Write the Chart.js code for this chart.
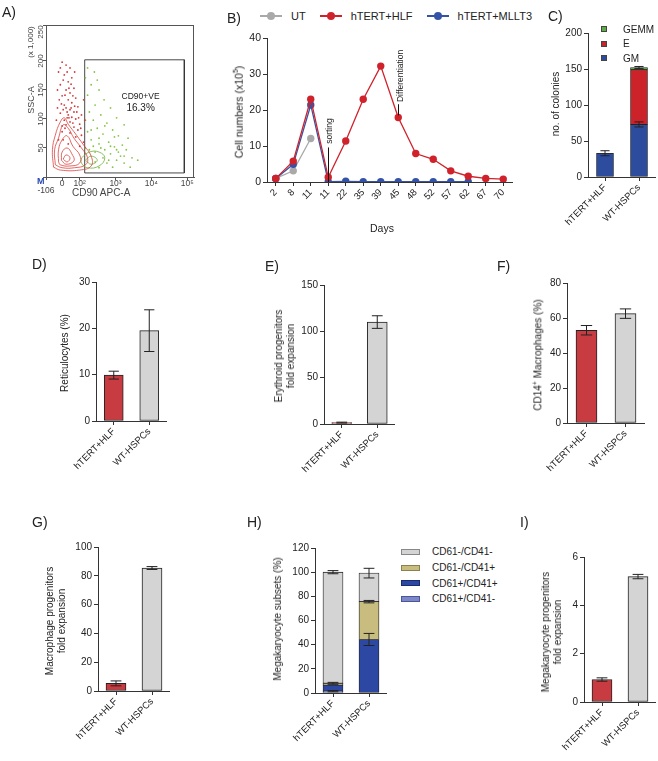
<!DOCTYPE html>
<html>
<head>
<meta charset="utf-8">
<title>hTERT+HLF panels</title>
<script src="https://cdn.jsdelivr.net/npm/chart.js@4.4.1/dist/chart.umd.min.js"></script>
<style>
body{margin:0;width:658px;height:761px;position:relative;background:#fff;font-family:"Liberation Sans",Arial,sans-serif;color:#222;overflow:hidden}
.pl{position:absolute;font-size:14px;line-height:14px}
.yt{position:absolute;transform:translate(-50%,-50%) rotate(-90deg);white-space:nowrap;text-align:center;font-size:10px;line-height:12px}
.tx{position:absolute;white-space:nowrap;font-size:10px;line-height:10px}
.lgB{position:absolute;left:260px;top:10px;font-size:11px;white-space:nowrap;display:flex;align-items:center}
.lgB .it{display:flex;align-items:center;margin-right:14px}
.mk{position:relative;display:inline-block;width:22px;height:8px;margin-right:9px}
.mk i{position:absolute;left:0;right:0;top:3px;height:1.5px}
.mk b{position:absolute;left:7px;top:0;width:8px;height:8px;border-radius:50%}
.lgC,.lgH{position:absolute;font-size:10px;white-space:nowrap}
.lgC div{height:14.5px;display:flex;align-items:center}
.lgC span{display:inline-block;width:4px;height:4px;border:1px solid #444;margin-right:16px}
.lgH div{height:15.7px;display:flex;align-items:center}
.lgH span{display:inline-block;width:17px;height:4px;border:1px solid #555;margin-right:12px}
</style>
</head>
<body>
<script>
// ---- data ----
// A) CD90 gate, x in display decades, y in SSC-A (x1000)
const aTickVals = [1.06, 1.51, 2, 3, 4, 5];
const aTickLabels = ['-106', '0', '10²', '10³', '10⁴', '10⁵'];
const aRedContours = [
  [[1.27,17],[1.24,47],[1.32,72],[1.46,95],[1.57,102],[1.68,91],[1.84,78],[2.11,55],[2.32,36],[2.32,19],[2.0,12],[1.46,12],[1.27,17]],
  [[1.32,21],[1.30,47],[1.41,67],[1.54,90],[1.68,84],[1.84,67],[2.05,50],[2.22,33],[2.16,21],[1.86,16],[1.51,16],[1.32,21]],
  [[1.41,26],[1.41,47],[1.51,64],[1.65,71],[1.81,53],[2.0,38],[2.0,24],[1.73,19],[1.46,21],[1.41,26]],
  [[1.49,29],[1.51,43],[1.65,50],[1.78,40],[1.84,28],[1.62,22],[1.49,29]],
  [[1.54,31],[1.62,38],[1.73,33],[1.65,26],[1.54,31]]
];
const aGreenContours = [
  [[2.05,33],[2.27,43],[2.54,43],[2.70,33],[2.54,19],[2.22,16],[2.05,24],[2.05,33]],
  [[2.16,29],[2.32,36],[2.49,29],[2.32,22],[2.16,29]]
];
const aRedDots = [[1.51,198],[1.62,193],[1.73,188],[1.41,181],[1.57,176],[1.78,171],[1.68,164],[1.46,159],[1.84,153],[1.62,150],
  [1.73,145],[1.51,140],[1.89,136],[1.68,133],[1.78,128],[1.57,124],[1.95,121],[1.62,119],[1.73,116],[1.84,112],[1.46,110],
  [1.68,107],[1.78,103],[1.89,100],[1.57,98],[1.73,95],[2.0,91],[1.62,90],[1.84,86],[1.95,81],[1.51,78],[1.73,76],[2.05,72],
  [1.89,69],[1.41,64],[2.11,60],[1.68,57],[2.0,53],[1.35,98],[1.43,133],[2.05,107],[2.11,133],[1.86,181],[1.38,150],
  [1.65,112],[1.70,102],[1.59,84],[1.76,119],[1.54,116],[1.81,93],[1.46,188],[1.65,181],[1.54,167],[1.76,160],[1.59,141],
  [1.49,126],[1.86,122],[1.65,102],[1.51,88],[1.97,102],[1.81,140],[1.70,153],[1.92,112],[1.38,119],[2.03,84],[1.54,64],[2.14,98]];
const aGreenDots = [[2.22,188],[2.41,181],[2.32,159],[2.54,150],[2.22,141],[2.68,133],[2.43,124],[2.86,119],[2.27,112],[2.59,107],
  [3.03,102],[2.38,98],[2.76,93],[3.24,90],[2.49,84],[2.92,81],[2.22,78],[2.65,74],[3.08,71],[3.35,67],[2.32,64],[2.81,60],
  [2.54,57],[3.19,55],[2.97,52],[2.16,50],[2.70,47],[3.30,47],[2.43,43],[2.86,40],[3.14,36],[3.46,33],[3.03,29],[2.76,24],
  [3.24,24],[2.92,17],[2.54,16],[3.41,17],[3.62,29],[2.49,167],[2.16,171],[2.65,33],[2.81,29],[2.43,26],[3.08,43],
  [2.27,47],[2.38,53],[2.59,50],[2.86,53],[3.03,47],[3.24,36],[2.54,67],[2.32,81],[2.16,98],[2.70,88],[2.97,69]];
const aGate = [[2.14,7],[2.14,202],[4.92,202],[4.92,7],[2.14,7]];
const aGateText = [{text: 'CD90+VE', x: 3.70, y: 138, size: 8.5}, {text: '16.3%', x: 3.70, y: 119, size: 10}];

// B) cell numbers (x10^5)
const bDays = ['2','8','11','11','22','35','39','45','48','52','57','62','67','70'];
const bNames = ['UT', 'hTERT+HLF', 'hTERT+MLLT3'];
const bColors = ['#a9a9a9', '#d0222b', '#3553a6'];
const bUT = [1, 3.1, 12.1, null, null, null, null, null, null, null, null, null, null, null];
const bHLF = [1, 5.8, 23, 1.3, 11.4, 23, 32.2, 17.9, 7.9, 6.3, 3.1, 1.6, 1.0, 0.8];
const bMLLT3 = [1, 4.9, 21.4, 0.1, 0.2, 0.1, 0.1, 0.1, 0.1, 0.1, 0.1, 0.1, null, null];
const bMarks = [
  {text: 'sorting', at: 3, from: 0, to: 9.6, textAt: 10.6, dx: 1},
  {text: 'Differentiation', at: 7, from: 18.5, to: 21.6, textAt: 22.2, dx: 2}
];

// shared groups
const groups = ['hTERT+HLF', 'WT-HSPCs'];

// C) colonies
const cNames = ['GM', 'E', 'GEMM'];
const cColors = ['#2d4c9e', '#cc2229', '#5dae41'];
const cGM = [33, 73], cGMErr = [3.5, 3.5];
const cE = [null, 76], cEErr = [0, 0];
const cGEMM = [null, 3], cGEMMErr = [0, 1.5];

// D-G, I) simple bars
const dVals = [9.9, 19.5], dErr = [0.85, 4.5];
const eVals = [1.5, 110], eErr = [0.5, 6.8];
const fVals = [53, 62.5], fErr = [2.7, 2.7];
const gVals = [5.3, 85.4], gErr = [1.7, 1];
const iVals = [0.93, 5.19], iErr = [0.07, 0.09];

// H) megakaryocyte subsets, bottom to top
const hNames = ['CD61+/CD41-', 'CD61+/CD41+', 'CD61-/CD41+', 'CD61-/CD41-'];
const hColors = ['#7d89c7', '#2c48a2', '#c8bd7e', '#d4d4d4'];
const hBorders = ['#4b559e', '#1a2b70', '#8a8050', '#888'];
const hVals = [[1.5, null], [5, 44.3], [1.5, 31.3], [92, 23.6]];
const hErr = [[0.5, 0], [0, 5], [0.8, 1], [1.3, 4]];

const RED = '#c83c41', GRAY = '#d4d4d4', AX = '#333';

// ---- helpers ----
Chart.defaults.font.family = '"Liberation Sans", Arial, sans-serif';
Chart.defaults.color = '#222';
Chart.defaults.animation = false;
Chart.defaults.plugins.legend.display = false;
Chart.defaults.plugins.tooltip.enabled = false;

function place(left, top, w, h) {
  const d = document.createElement('div');
  d.style.cssText = `position:absolute;left:${left}px;top:${top}px;width:${w}px;height:${h}px`;
  const c = document.createElement('canvas');
  d.appendChild(c);
  document.body.appendChild(d);
  return c;
}
function html(s) { document.body.insertAdjacentHTML('beforeend', s); }
function fixY(w) { return s => { s.width = w; s.paddingTop = 0; s.paddingBottom = 0; }; }
function fixX(h) { return s => { s.height = h; s.paddingLeft = 0; s.paddingRight = 0; }; }

const errorBars = {
  id: 'errorBars',
  afterDatasetsDraw(chart) {
    const ctx = chart.ctx, ys = chart.scales.y;
    chart.data.datasets.forEach((ds, i) => {
      if (!ds.errors) return;
      chart.getDatasetMeta(i).data.forEach((bar, j) => {
        const e = ds.errors[j];
        if (!e || ds.data[j] == null) return;
        const d = ys.getPixelForValue(0) - ys.getPixelForValue(e);
        const c = bar.width * 0.27;
        ctx.save();
        ctx.strokeStyle = '#222'; ctx.lineWidth = 1;
        ctx.beginPath();
        ctx.moveTo(bar.x, bar.y - d); ctx.lineTo(bar.x, bar.y + d);
        ctx.moveTo(bar.x - c, bar.y - d); ctx.lineTo(bar.x + c, bar.y - d);
        ctx.moveTo(bar.x - c, bar.y + d); ctx.lineTo(bar.x + c, bar.y + d);
        ctx.stroke();
        ctx.restore();
      });
    });
  }
};

function barPanel(p) {
  const yW = 40, xH = 70, pad = 8;
  const left = p.axisX - yW, top = p.top - pad;
  const cv = place(left, top, p.right - left, p.zero - top + xH);
  new Chart(cv, {
    type: 'bar',
    data: { labels: groups, datasets: p.datasets },
    options: {
      responsive: true, maintainAspectRatio: false,
      layout: { padding: { top: pad, left: 0, right: 0, bottom: 0 } },
      scales: {
        x: {
          stacked: !!p.stacked, offset: true,
          grid: { offset: false, drawOnChartArea: false, color: AX, tickLength: 4 },
          border: { color: AX },
          ticks: { minRotation: 45, maxRotation: 45, font: { size: 9.5 }, padding: 1 },
          afterFit: fixX(xH)
        },
        y: {
          stacked: !!p.stacked, min: 0, max: p.max,
          ticks: { stepSize: p.step, font: { size: 10 }, padding: 2 },
          grid: { drawOnChartArea: false, color: AX, tickLength: 4 },
          border: { color: AX },
          afterFit: fixY(yW)
        }
      }
    },
    plugins: [errorBars]
  });
}
function simpleSet(vals, errs, bw) {
  return [{ data: vals, errors: errs, backgroundColor: [RED, GRAY], borderColor: '#222',
    borderWidth: 1, borderSkipped: false, barThickness: bw }];
}

// ---- A) flow plot ----
const aFrame = {
  id: 'aFrame',
  afterDraw(chart) {
    const { ctx, chartArea: a, scales: { x, y } } = chart;
    ctx.save();
    ctx.strokeStyle = '#555'; ctx.lineWidth = 1;
    ctx.strokeRect(a.left + 0.5, a.top + 0.5, a.right - a.left - 1, a.bottom - a.top);
    ctx.fillStyle = '#444';
    ctx.font = '8px "Liberation Sans", Arial';
    ctx.textAlign = 'center'; ctx.textBaseline = 'middle';
    [50, 100, 150, 200, 250].forEach(v => {
      ctx.save();
      ctx.translate(a.left - 5, y.getPixelForValue(v));
      ctx.rotate(-Math.PI / 2);
      ctx.fillText(String(v), 0, 0);
      ctx.restore();
    });
    ctx.font = '8.5px "Liberation Sans", Arial';
    aTickVals.forEach((v, i) => {
      ctx.fillText(aTickLabels[i], x.getPixelForValue(v), a.bottom + (i === 0 ? 14 : 7));
    });
    aGateText.forEach(t => {
      ctx.font = t.size + 'px "Liberation Sans", Arial';
      ctx.fillStyle = '#222';
      ctx.fillText(t.text, x.getPixelForValue(t.x), y.getPixelForValue(t.y));
    });
    ctx.restore();
  }
};
const pts = arr => arr.map(p => ({ x: p[0], y: p[1] }));
const aSets = [];
aRedContours.forEach(c => aSets.push({ data: pts(c), showLine: true, tension: 0.45, pointRadius: 0, borderColor: '#d9423f', borderWidth: 0.8 }));
aGreenContours.forEach(c => aSets.push({ data: pts(c), showLine: true, tension: 0.45, pointRadius: 0, borderColor: '#6fb33a', borderWidth: 0.8 }));
aSets.push({ data: pts(aRedDots), pointRadius: 0.9, pointBorderWidth: 0, backgroundColor: '#d8363a' });
aSets.push({ data: pts(aGreenDots), pointRadius: 0.9, pointBorderWidth: 0, backgroundColor: '#84c446' });
aSets.push({ data: pts(aGate), showLine: true, tension: 0, pointRadius: 0, borderColor: '#333', borderWidth: 0.9 });
new Chart(place(0, 17, 198, 182), {
  type: 'scatter',
  data: { datasets: aSets },
  options: {
    responsive: true, maintainAspectRatio: false,
    layout: { padding: { top: 8, left: 0, right: 0, bottom: 0 } },
    scales: {
      x: {
        type: 'linear', min: 1.06, max: 5.19,
        afterBuildTicks: s => { s.ticks = aTickVals.map(v => ({ value: v })); },
        ticks: { display: false },
        grid: { drawOnChartArea: false, tickLength: 3, color: '#555' },
        border: { color: '#555' },
        afterFit: fixX(22)
      },
      y: {
        min: 0, max: 262,
        ticks: { display: false, stepSize: 50 },
        grid: { drawOnChartArea: false, tickLength: 3, color: '#555' },
        border: { color: '#555' },
        afterFit: fixY(46)
      }
    }
  },
  plugins: [aFrame]
});
html('<div class="yt" style="left:31px;top:100px;font-size:9px;color:#444">SSC-A</div>');
html('<div class="yt" style="left:31px;top:42px;font-size:8px;color:#444">(x 1,000)</div>');
html('<div class="tx" style="left:72px;top:188px;font-size:10px;color:#444">CD90 APC-A</div>');
html('<div class="tx" style="left:37px;top:176px;font-size:9px;font-weight:bold;color:#2a49b0">M</div>');

// ---- B) growth curve ----
const bNotes = {
  id: 'bNotes',
  afterDatasetsDraw(chart) {
    const { ctx, scales: { x, y } } = chart;
    ctx.save();
    ctx.strokeStyle = '#111'; ctx.fillStyle = '#222'; ctx.lineWidth = 1;
    ctx.font = '8.5px "Liberation Sans", Arial';
    bMarks.forEach(m => {
      const px = Math.round(x.getPixelForValue(m.at)) + 0.5;
      ctx.beginPath();
      ctx.moveTo(px, y.getPixelForValue(m.from));
      ctx.lineTo(px, y.getPixelForValue(m.to));
      ctx.stroke();
      ctx.save();
      ctx.translate(px + m.dx, y.getPixelForValue(m.textAt));
      ctx.rotate(-Math.PI / 2);
      ctx.textAlign = 'left'; ctx.textBaseline = 'middle';
      ctx.fillText(m.text, 0, 0);
      ctx.restore();
    });
    ctx.restore();
  }
};
const bSeries = [bUT, bHLF, bMLLT3];
const bOrder = [2, 0, 1];
new Chart(place(227, 30, 289, 202), {
  type: 'line',
  data: {
    labels: bDays,
    datasets: bSeries.map((d, i) => ({
      label: bNames[i], data: d, order: bOrder[i],
      borderColor: bColors[i], backgroundColor: bColors[i], pointBackgroundColor: bColors[i],
      borderWidth: 1.3, pointRadius: 3.7, pointBorderWidth: 0, tension: 0, spanGaps: false
    }))
  },
  options: {
    responsive: true, maintainAspectRatio: false,
    layout: { padding: { top: 8, left: 0, right: 0, bottom: 0 } },
    scales: {
      x: {
        offset: true,
        grid: { offset: false, drawOnChartArea: false, color: AX, tickLength: 4 },
        border: { color: AX },
        ticks: { autoSkip: false, minRotation: 45, maxRotation: 45, font: { size: 9.5 }, padding: 1 },
        afterFit: fixX(50)
      },
      y: {
        min: 0, max: 40,
        ticks: { stepSize: 10, font: { size: 10.5 }, padding: 2 },
        grid: { drawOnChartArea: false, color: AX, tickLength: 4 },
        border: { color: AX },
        afterFit: fixY(40)
      }
    }
  },
  plugins: [bNotes]
});
html('<div class="lgB">' + bNames.map((n, i) =>
  `<div class="it"><span class="mk"><i style="background:${bColors[i]}"></i><b style="background:${bColors[i]}"></b></span>${n}</div>`).join('') + '</div>');
html('<div class="yt" style="left:237px;top:112px;font-size:10.5px">Cell numbers (x10<sup style="font-size:7px">5</sup>)</div>');
html('<div class="tx" style="left:370px;top:223px;font-size:10.5px">Days</div>');

// ---- C) colonies ----
barPanel({
  axisX: 588, top: 33, zero: 177, right: 656, max: 200, step: 50, stacked: true,
  datasets: [[cGM, cGMErr], [cE, cEErr], [cGEMM, cGEMMErr]].map((d, i) => ({
    label: cNames[i], data: d[0], errors: d[1], backgroundColor: cColors[i],
    borderColor: '#222', borderWidth: 0.8, borderSkipped: false, barThickness: 17
  }))
});
html('<div class="lgC" style="left:601px;top:22px">' + cNames.slice().reverse().map((n, k) =>
  `<div><span style="background:${cColors[cNames.length - 1 - k]}"></span>${n}</div>`).join('') + '</div>');
html('<div class="yt" style="left:556px;top:104px">no. of colonies</div>');

// ---- D, E, F ----
barPanel({ axisX: 96, top: 282, zero: 421, right: 167, max: 30, step: 10, datasets: simpleSet(dVals, dErr, 19) });
html('<div class="yt" style="left:65px;top:353px">Reticulocytes (%)</div>');
barPanel({ axisX: 324, top: 285, zero: 424, right: 395, max: 150, step: 50, datasets: simpleSet(eVals, eErr, 20) });
html('<div class="yt" style="left:285px;top:356px">Erythroid progenitors<br>fold expansion</div>');
barPanel({ axisX: 567, top: 283, zero: 423, right: 645, max: 80, step: 20, datasets: simpleSet(fVals, fErr, 21) });
html('<div class="yt" style="left:537px;top:355px">CD14<sup style="font-size:7px">+</sup> Macrophages (%)</div>');

// ---- G, H, I ----
barPanel({ axisX: 98, top: 547, zero: 691, right: 170, max: 100, step: 20, datasets: simpleSet(gVals, gErr, 20) });
html('<div class="yt" style="left:56px;top:621px">Macrophage progenitors<br>fold expansion</div>');
barPanel({
  axisX: 315, top: 548, zero: 693, right: 387, max: 120, step: 20, stacked: true,
  datasets: hVals.map((d, i) => ({
    label: hNames[i], data: d, errors: hErr[i], backgroundColor: hColors[i],
    borderColor: '#222', borderWidth: 0.8, borderSkipped: false, barThickness: 20
  }))
});
html('<div class="lgH" style="left:401px;top:544px">' + hNames.map((n, i) => i).reverse().map(i =>
  `<div><span style="background:${hColors[i]};border-color:${hBorders[i]}"></span>${hNames[i]}</div>`).join('') + '</div>');
html('<div class="yt" style="left:278px;top:619px">Megakaryocyte subsets (%)</div>');
barPanel({ axisX: 584, top: 557, zero: 702, right: 656, max: 6, step: 2, datasets: simpleSet(iVals, iErr, 20) });
html('<div class="yt" style="left:552px;top:632px">Megakaryocyte progenitors<br>fold expansion</div>');

// panel letters
[['A)', 2, 5], ['B)', 227, 11], ['C)', 548, 9], ['D)', 32, 257], ['E)', 265, 259],
 ['F)', 497, 259], ['G)', 32, 515], ['H)', 247, 515], ['I)', 520, 515]].forEach(l =>
  html(`<div class="pl" style="left:${l[1]}px;top:${l[2]}px">${l[0]}</div>`));
</script>
</body>
</html>
